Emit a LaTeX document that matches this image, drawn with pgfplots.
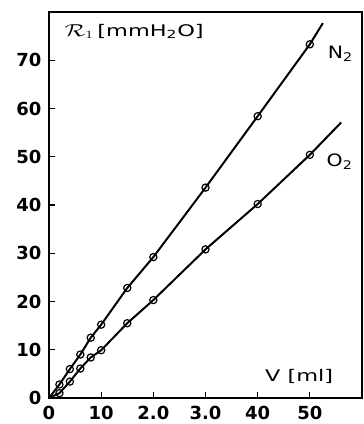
\documentclass[border=0pt]{standalone}
\usepackage{graphicx}
\usepackage{pgfplots}
\pgfplotsset{compat=1.18}
\usepackage{fontspec}
\setmainfont{DejaVu Sans}
\newcommand{\wide}[1]{\scalebox{1.4}[1]{#1}}
\begin{document}
\begin{tikzpicture}
\begin{axis}[
  scale only axis,
  width=313pt, height=386pt,
  xmin=0, xmax=60, ymin=0, ymax=80,
  axis line style={line width=1.4pt},
  tick align=inside,
  xtick pos=bottom, ytick pos=left,
  major tick length=6pt,
  tick style={line width=1.3pt, black},
  xtick={0,10,20,30,40,50},
  xticklabels={0,10,2.0,3.0,40,50},
  ytick={0,10,20,30,40,50,60,70},
  /pgf/number format/assume math mode=true,
  ticklabel style={font=\fontsize{18}{21}\selectfont\bfseries},
  xticklabel style={yshift=-5pt},
  yticklabel style={xshift=-4pt},
  clip=false,
]
\coordinate (bl) at (rel axis cs:0,0);
\coordinate (tr) at (rel axis cs:1,1);
% N2 line
\addplot[black, line width=2pt] coordinates {
 (0,0) (2,2.8) (4,6) (6,9) (8,12.5) (10,15.2) (15,22.8) (20,29.2) (30,43.6) (40,58.4) (50,73.3) (52.5,77.7)};
% O2 line
\addplot[black, line width=2pt] coordinates {
 (0,0) (2,1.0) (4,3.4) (6,6.1) (8,8.4) (10,9.9) (15,15.5) (20,20.3) (30,30.8) (40,40.2) (50,50.4) (56,57.1)};
% N2 points
\addplot[only marks, mark=o, mark size=3.6pt, mark options={fill=white, line width=1.2pt}] coordinates {
 (2,2.8) (4,6) (6,9) (8,12.5) (10,15.2) (15,22.8) (20,29.2) (30,43.6) (40,58.4) (50,73.3)};
% O2 points
\addplot[only marks, mark=o, mark size=3.6pt, mark options={fill=white, line width=1.2pt}] coordinates {
 (2,1.0) (4,3.4) (6,6.1) (8,8.4) (10,9.9) (15,15.5) (20,20.3) (30,30.8) (40,40.2) (50,50.4)};
\node[anchor=west, font=\fontsize{16}{19}\selectfont, inner sep=0pt] at (axis cs:3,76) {\wide{$\mathcal{R}_{1}$\,[mmH\textsubscript{2}O]}};
\node[anchor=west, font=\fontsize{17}{20}\selectfont, inner sep=0pt] at (axis cs:53.4,71.4) {\scalebox{1.2}[1]{N\textsubscript{2}}};
\node[anchor=west, font=\fontsize{17}{20}\selectfont, inner sep=0pt] at (axis cs:53.2,49) {\scalebox{1.2}[1]{O\textsubscript{2}}};
\node[anchor=east, font=\fontsize{16}{19}\selectfont, inner sep=0pt] at (axis cs:54.5,4.4) {\wide{V [ml]}};
\end{axis}
\pgfresetboundingbox
\path ([shift={(-49pt,-26pt)}]bl) rectangle ([shift={(1pt,12pt)}]tr);
\end{tikzpicture}
\end{document}
